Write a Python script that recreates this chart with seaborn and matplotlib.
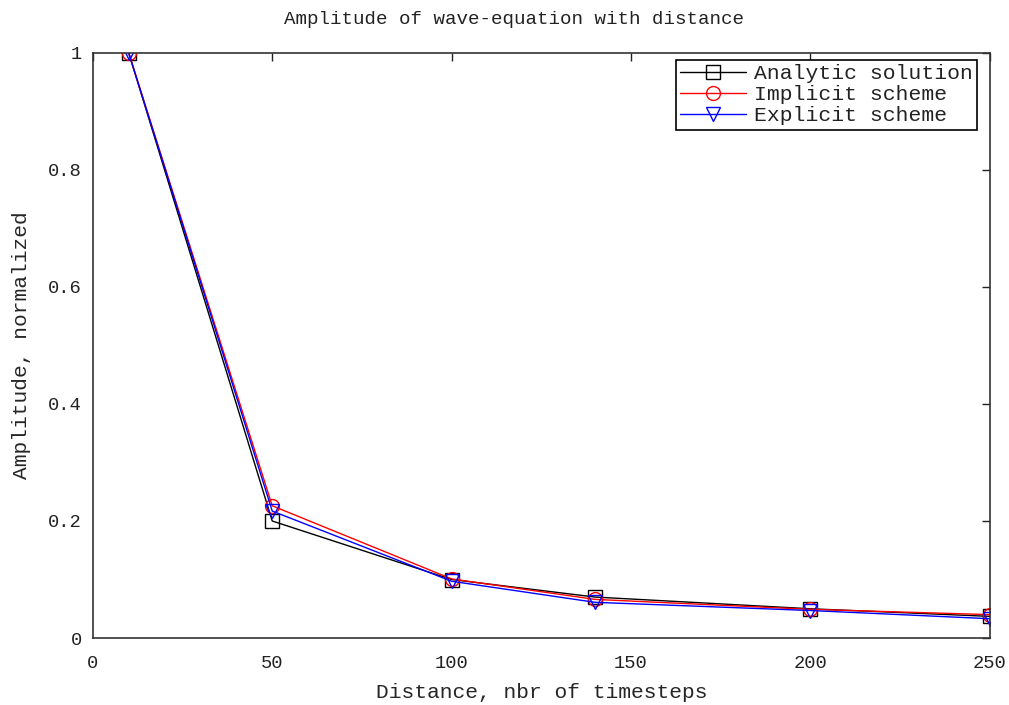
import matplotlib
matplotlib.use("Agg")
import matplotlib.pyplot as plt
import seaborn as sns
import pandas as pd
import numpy as np

distance = [10, 50, 100, 140, 200, 250]
analytic = [1.0, 0.200, 0.100, 0.070, 0.050, 0.037]
implicit = [1.0, 0.226, 0.101, 0.066, 0.049, 0.040]
explicit = [1.0, 0.217, 0.097, 0.061, 0.047, 0.033]

series_names = ["Analytic solution", "Implicit scheme", "Explicit scheme"]
colors = ["black", "red", "blue"]
markers = ["s", "o", "v"]

sns.set_theme(style="white")
plt.rcParams['font.family'] = ['Liberation Mono', 'DejaVu Sans Mono']
plt.rcParams['text.color'] = '#222222'

fig = plt.figure(figsize=(10.09, 7.05), dpi=100)
ax = fig.add_axes([0.092, 0.095, 0.889, 0.830])

for vals, name, c, m in zip([analytic, implicit, explicit], series_names, colors, markers):
    df = pd.DataFrame({"x": distance, "y": vals})
    sns.lineplot(data=df, x="x", y="y", ax=ax, color=c, marker=m, markersize=10,
                 markerfacecolor="none", markeredgecolor=c, markeredgewidth=1.0,
                 linewidth=1.0, label=name)

ax.set_xlim(0, 250)
ax.set_ylim(0, 1)
ax.set_xticks([0, 50, 100, 150, 200, 250])
ax.set_yticks([0, 0.2, 0.4, 0.6, 0.8, 1.0])
ax.set_yticklabels(["0", "0.2", "0.4", "0.6", "0.8", "1"])
ax.tick_params(direction="in", length=6, width=1, top=True, right=True,
               labelsize=13.5, colors="#222222")
ax.tick_params(axis="x", pad=12)
ax.tick_params(axis="y", pad=8)
for s in ax.spines.values():
    s.set_color("#333333")
    s.set_linewidth(1.2)

ax.set_title("Amplitude of wave-equation with distance", fontsize=13.8, pad=21, x=0.470)
ax.set_xlabel("Distance, nbr of timesteps", fontsize=15.3, labelpad=8)
ax.set_ylabel("Amplitude, normalized", fontsize=15.3, labelpad=12)

leg = ax.legend(loc="upper right", bbox_to_anchor=(0.9855, 0.988), fontsize=15.4,
                frameon=True, fancybox=False, edgecolor="black", handlelength=3.1,
                borderpad=0.2, labelspacing=0.1, handletextpad=0.35,
                borderaxespad=0.0, framealpha=1)
leg.get_frame().set_linewidth(1.2)

fig.savefig("out.png", dpi=100)
